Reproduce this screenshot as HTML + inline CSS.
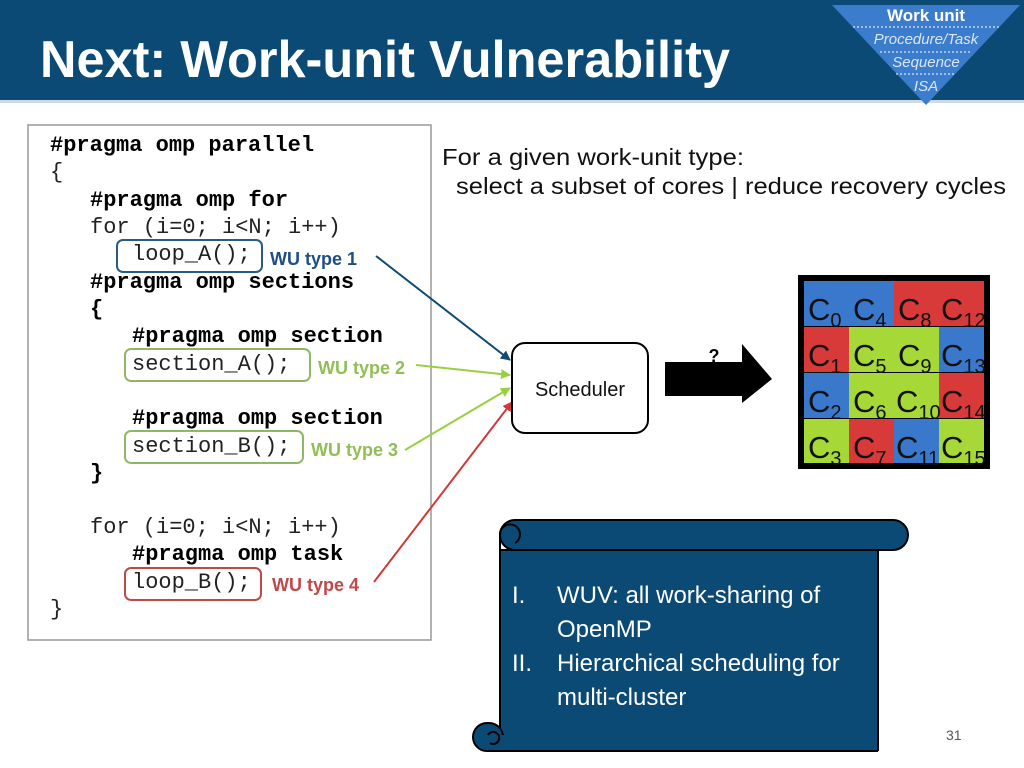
<!DOCTYPE html>
<html><head><meta charset="utf-8"><style>
body{margin:0;width:1024px;height:768px;overflow:hidden;background:#fff;}
svg{display:block}
.m{font-family:"Liberation Mono",monospace;font-size:22px;fill:#222}
.b{font-weight:bold;fill:#000}
.wu{font-family:"Liberation Sans",sans-serif;font-weight:bold;font-size:18px}
.c{font-family:"Liberation Sans",sans-serif;font-size:31px;fill:#111}
.s{font-size:20px}
</style></head><body>
<svg width="1024" height="768" viewBox="0 0 1024 768">
<defs>
<marker id="ab" markerWidth="10" markerHeight="10" refX="9" refY="5" orient="auto" markerUnits="userSpaceOnUse"><path d="M0,0 L10,5 L0,10 z" fill="#0e4a73"/></marker>
<marker id="ag" markerWidth="10" markerHeight="10" refX="9" refY="5" orient="auto" markerUnits="userSpaceOnUse"><path d="M0,0 L10,5 L0,10 z" fill="#9ad040"/></marker>
<marker id="ar" markerWidth="10" markerHeight="10" refX="9" refY="5" orient="auto" markerUnits="userSpaceOnUse"><path d="M0,0 L10,5 L0,10 z" fill="#d03838"/></marker>
</defs>
<rect x="0" y="0" width="1024" height="100" fill="#0b4a74"/>
<rect x="0" y="100" width="1024" height="3" fill="#cfd9e3"/>
<text x="40" y="77" font-family="Liberation Sans,sans-serif" font-weight="bold" font-size="52" fill="#fff" textLength="690" lengthAdjust="spacingAndGlyphs">Next: Work-unit Vulnerability</text>
<polygon points="832,5 1020,5 926,105" fill="#3b7ccc"/>
<g font-family="Liberation Sans,sans-serif" fill="#fff" text-anchor="middle">
<text x="926" y="21" font-weight="bold" font-size="17">Work unit</text>
<line x1="853" y1="27" x2="1000" y2="27" stroke="#fff" stroke-dasharray="2,2"/>
<text x="926" y="44" font-style="italic" font-size="15" fill="#dbe6f5">Procedure/Task</text>
<line x1="880" y1="52" x2="972" y2="52" stroke="#fff" stroke-dasharray="2,2"/>
<text x="926" y="67" font-style="italic" font-size="15" fill="#dbe6f5">Sequence</text>
<line x1="896" y1="74" x2="956" y2="74" stroke="#fff" stroke-dasharray="2,2"/>
<text x="926" y="91" font-style="italic" font-size="15" fill="#dbe6f5">ISA</text>
</g>
<rect x="28" y="125" width="403" height="515" fill="#fff" stroke="#999" stroke-width="1.5"/>
<text class="m b" x="50" y="151">#pragma omp parallel</text>
<text class="m" x="50" y="178">{</text>
<text class="m b" x="90" y="206">#pragma omp for</text>
<text class="m" x="90" y="233">for (i=0; i&lt;N; i++)</text>
<text class="m" x="132" y="260">loop_A();</text>
<text class="m b" x="90" y="288">#pragma omp sections</text>
<text class="m b" x="90" y="315">{</text>
<text class="m b" x="132" y="342">#pragma omp section</text>
<text class="m" x="132" y="370">section_A();</text>
<text class="m b" x="132" y="424">#pragma omp section</text>
<text class="m" x="132" y="452">section_B();</text>
<text class="m b" x="90" y="479">}</text>
<text class="m" x="90" y="533">for (i=0; i&lt;N; i++)</text>
<text class="m b" x="132" y="560">#pragma omp task</text>
<text class="m" x="132" y="588">loop_B();</text>
<text class="m" x="50" y="615">}</text>
<rect x="117" y="240" width="145" height="32" rx="6" fill="none" stroke="#2c5a86" stroke-width="2"/>
<rect x="125" y="349" width="185" height="32" rx="6" fill="none" stroke="#8fb865" stroke-width="2"/>
<rect x="125" y="431" width="178" height="32" rx="6" fill="none" stroke="#8fb865" stroke-width="2"/>
<rect x="125" y="568" width="136" height="32" rx="6" fill="none" stroke="#c04848" stroke-width="2"/>
<text class="wu" x="270" y="265" fill="#1f4e84">WU type 1</text>
<text class="wu" x="318" y="374" fill="#8fbf55">WU type 2</text>
<text class="wu" x="311" y="456" fill="#8fbf55">WU type 3</text>
<text class="wu" x="272" y="591" fill="#c04848">WU type 4</text>
<line x1="376" y1="256" x2="510" y2="360" stroke="#0e4a73" stroke-width="2" marker-end="url(#ab)"/>
<line x1="416" y1="365" x2="510" y2="375" stroke="#9ad040" stroke-width="2" marker-end="url(#ag)"/>
<line x1="405" y1="450" x2="510" y2="388" stroke="#9ad040" stroke-width="2" marker-end="url(#ag)"/>
<line x1="374" y1="582" x2="512" y2="402" stroke="#d03838" stroke-width="2" marker-end="url(#ar)"/>
<text x="442" y="165" font-family="Liberation Sans,sans-serif" font-size="23" fill="#111" textLength="302" lengthAdjust="spacingAndGlyphs">For a given work-unit type:</text>
<text x="456" y="194" font-family="Liberation Sans,sans-serif" font-size="23" fill="#111" textLength="550" lengthAdjust="spacingAndGlyphs">select a subset of cores | reduce recovery cycles</text>
<rect x="512" y="343" width="136" height="90" rx="13" fill="#fff" stroke="#000" stroke-width="2"/>
<text x="580" y="396" text-anchor="middle" font-family="Liberation Sans,sans-serif" font-size="20" fill="#111">Scheduler</text>
<text x="714" y="362" text-anchor="middle" font-family="Liberation Sans,sans-serif" font-weight="bold" font-size="18">?</text>
<polygon points="665,362 742,362 742,344 772,379 742,403 742,396 665,396" fill="#000"/>
<rect x="798" y="275" width="192" height="194" fill="#000"/>
<g>
<rect x="804" y="281" width="45" height="45" fill="#3a78cc"/><rect x="849" y="281" width="45" height="45" fill="#3a78cc"/><rect x="894" y="281" width="45" height="45" fill="#d83a3a"/><rect x="939" y="281" width="45" height="45" fill="#d83a3a"/>
<rect x="804" y="327" width="45" height="45" fill="#d83a3a"/><rect x="849" y="327" width="45" height="45" fill="#a6d838"/><rect x="894" y="327" width="45" height="45" fill="#a6d838"/><rect x="939" y="327" width="45" height="45" fill="#3a78cc"/>
<rect x="804" y="373" width="45" height="45" fill="#3a78cc"/><rect x="849" y="373" width="45" height="45" fill="#a6d838"/><rect x="894" y="373" width="45" height="45" fill="#a6d838"/><rect x="939" y="373" width="45" height="45" fill="#d83a3a"/>
<rect x="804" y="419" width="45" height="44" fill="#a6d838"/><rect x="849" y="419" width="45" height="44" fill="#d83a3a"/><rect x="894" y="419" width="45" height="44" fill="#3a78cc"/><rect x="939" y="419" width="45" height="44" fill="#a6d838"/>
</g>
<g>
<text x="808" y="320" class="c">C<tspan class="s" dy="7">0</tspan></text><text x="853" y="320" class="c">C<tspan class="s" dy="7">4</tspan></text><text x="898" y="320" class="c">C<tspan class="s" dy="7">8</tspan></text><text x="941" y="320" class="c">C<tspan class="s" dy="7">12</tspan></text>
<text x="808" y="366" class="c">C<tspan class="s" dy="7">1</tspan></text><text x="853" y="366" class="c">C<tspan class="s" dy="7">5</tspan></text><text x="898" y="366" class="c">C<tspan class="s" dy="7">9</tspan></text><text x="941" y="366" class="c">C<tspan class="s" dy="7">13</tspan></text>
<text x="808" y="412" class="c">C<tspan class="s" dy="7">2</tspan></text><text x="853" y="412" class="c">C<tspan class="s" dy="7">6</tspan></text><text x="896" y="412" class="c">C<tspan class="s" dy="7">10</tspan></text><text x="941" y="412" class="c">C<tspan class="s" dy="7">14</tspan></text>
<text x="808" y="458" class="c">C<tspan class="s" dy="7">3</tspan></text><text x="853" y="458" class="c">C<tspan class="s" dy="7">7</tspan></text><text x="896" y="458" class="c">C<tspan class="s" dy="7">11</tspan></text><text x="941" y="458" class="c">C<tspan class="s" dy="7">15</tspan></text>
</g>
<g stroke="#000" stroke-width="2" fill="#0b4a74">
<path d="M500,535 L500,745 L878,745 L878,550 L500,550 Z"/>
<rect x="500" y="520" width="408" height="30" rx="15"/>
<path d="M500,535 a10,10 0 1 1 15,8" fill="none"/>
<rect x="473" y="723" width="30" height="28" rx="14"/>
<rect x="490" y="735" width="388" height="16" fill="#0b4a74" stroke="none"/>
<line x1="490" y1="751" x2="878" y2="751"/>
<line x1="878" y1="735" x2="878" y2="751"/>
<path d="M488,735 a6,6 0 1 1 2,8" fill="none"/>
</g>
<g font-family="Liberation Sans,'DejaVu Sans',sans-serif" font-size="24" fill="#fff">
<text x="512" y="603">I.</text><text x="557" y="603">WUV: all work-sharing of</text>
<text x="557" y="637">OpenMP</text>
<text x="512" y="671">II.</text><text x="557" y="671">Hierarchical scheduling for</text>
<text x="557" y="705">multi-cluster</text>
</g>
<text x="946" y="740" font-family="Liberation Sans,sans-serif" font-size="14" fill="#555">31</text>
</svg>
</body></html>
